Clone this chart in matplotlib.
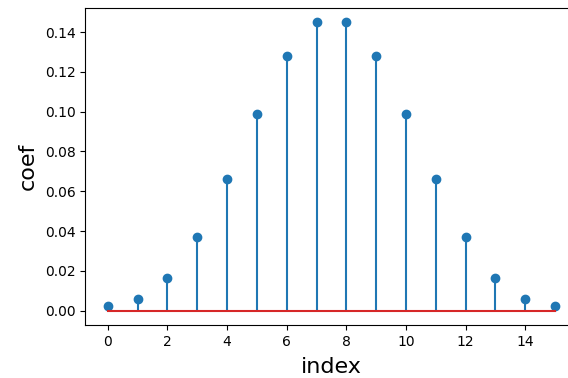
import matplotlib
matplotlib.use('Agg')
import matplotlib.pyplot as plt

# filter coefficients
index = list(range(16))
coef = [0.0021, 0.0058, 0.0166, 0.0370, 0.0664, 0.0987, 0.1279, 0.1451,
        0.1451, 0.1279, 0.0987, 0.0664, 0.0370, 0.0166, 0.0058, 0.0021]

fig = plt.figure(figsize=(5.68, 3.78), dpi=100)
# the original image is cropped on the right, so the axes run past the edge
ax = fig.add_axes([0.1505, 0.14, 0.866, 0.84])
ax.stem(index, coef)
ax.set_xlabel('index', fontsize=16, labelpad=6)
ax.set_ylabel('coef', fontsize=16, labelpad=5.5)
fig.savefig('out.png')
